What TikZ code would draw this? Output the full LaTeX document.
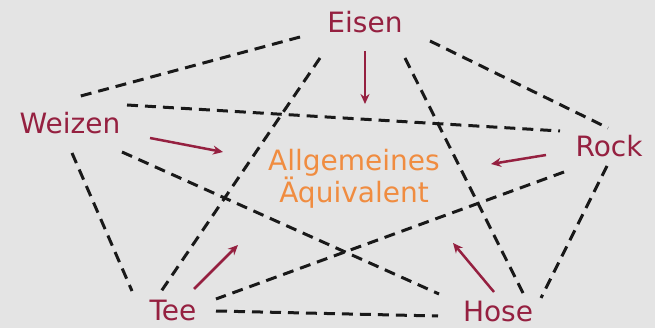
\documentclass[tikz,border=0pt]{standalone}
\usepackage{fontspec}
\setmainfont{DejaVu Sans}
\usetikzlibrary{arrows.meta}
\definecolor{wine}{HTML}{952040}
\definecolor{amber}{HTML}{F08C40}
\definecolor{paper}{HTML}{E4E4E4}
\begin{document}
\begin{tikzpicture}[x=1pt,y=-1pt,
  good/.style={text=wine,font=\fontsize{28}{30}\selectfont,anchor=base,inner sep=0pt},
  link/.style={draw=black!90,line width=3pt,dash pattern=on 11pt off 7pt},
  flow/.style={draw=wine,line width=2.5pt,-{Stealth[length=10pt,width=9pt]}}]
  \fill[paper] (0,0) rectangle (655,328);
  \useasboundingbox (0,0) rectangle (655,328);

  % goods
  \node[good] (eisen)  at (365,33)  {Eisen};
  \node[good] (weizen) at (70,134)  {Weizen};
  \node[good] (rock)   at (609,157) {Rock};
  \node[good] (tee)    at (173,320) {Tee};
  \node[good] (hose)   at (498,321) {Hose};
  \node[text=amber,font=\fontsize{28}{31}\selectfont,align=center,inner sep=0pt]
    (aeq) at (354,179) {Allgemeines\\Äquivalent};

  % end points of the exchange relations
  \coordinate (eW) at (300,37);  \coordinate (wE) at (77,97);
  \coordinate (eR) at (430,41);  \coordinate (rE) at (608,128);
  \coordinate (eT) at (320,58);  \coordinate (tE) at (160,293);
  \coordinate (eH) at (405,58);  \coordinate (hE) at (523,293);
  \coordinate (wR) at (127,105); \coordinate (rW) at (560,131);
  \coordinate (wH) at (122,152); \coordinate (hW) at (439,294);
  \coordinate (wT) at (72,153);  \coordinate (tW) at (132,291);
  \coordinate (rT) at (564,172); \coordinate (tR) at (216,299);
  \coordinate (rH) at (607,166); \coordinate (hR) at (541,298);
  \coordinate (tH) at (216,311); \coordinate (hT) at (438,316);

  \draw[link] (eW) -- (wE);
  \draw[link] (eR) -- (rE);
  \draw[link] (eT) -- (tE);
  \draw[link] (eH) -- (hE);
  \draw[link] (wR) -- (rW);
  \draw[link] (wH) -- (hW);
  \draw[link] (wT) -- (tW);
  \draw[link] (rT) -- (tR);
  \draw[link] (rH) -- (hR);
  \draw[link] (tH) -- (hT);

  % arrows towards the general equivalent
  \coordinate (aE) at (365,104);
  \coordinate (aW) at (223,152);
  \coordinate (aR) at (491,164);
  \coordinate (aT) at (238,245);
  \coordinate (aH) at (453,243);
  \coordinate (fE) at (365,51);
  \coordinate (fW) at (150,138);
  \coordinate (fR) at (546,155);
  \coordinate (fT) at (194,289);
  \coordinate (fH) at (494,292);
  \draw[flow] (fE) -- (aE);
  \draw[flow] (fW) -- (aW);
  \draw[flow] (fR) -- (aR);
  \draw[flow] (fT) -- (aT);
  \draw[flow] (fH) -- (aH);
\end{tikzpicture}
\end{document}
